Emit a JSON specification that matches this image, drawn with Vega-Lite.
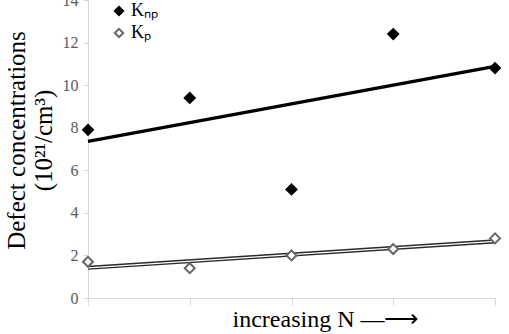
{
  "$schema": "https://vega.github.io/schema/vega-lite/v6.json",
  "width": 407,
  "height": 298,
  "autosize": "none",
  "padding": {"left": 88, "top": 0, "right": 14, "bottom": 36},
  "background": "white",
  "config": {
    "view": {"stroke": null},
    "font": "Liberation Serif"
  },
  "data": {
    "values": [
      {"n": 1, "series": "Knp", "value": 7.9},
      {"n": 2, "series": "Knp", "value": 9.4},
      {"n": 3, "series": "Knp", "value": 5.1},
      {"n": 4, "series": "Knp", "value": 12.4},
      {"n": 5, "series": "Knp", "value": 10.8},
      {"n": 1, "series": "Kp", "value": 1.7},
      {"n": 2, "series": "Kp", "value": 1.4},
      {"n": 3, "series": "Kp", "value": 2.0},
      {"n": 4, "series": "Kp", "value": 2.3},
      {"n": 5, "series": "Kp", "value": 2.8}
    ]
  },
  "layer": [
    {
      "transform": [
        {"filter": "datum.series === 'Knp'"},
        {"regression": "value", "on": "n"}
      ],
      "mark": {"type": "line", "color": "black", "strokeWidth": 3.4},
      "encoding": {
        "x": {"field": "n", "type": "quantitative"},
        "y": {"field": "value", "type": "quantitative"}
      }
    },
    {
      "transform": [
        {"filter": "datum.series === 'Kp'"},
        {"regression": "value", "on": "n"}
      ],
      "mark": {"type": "line", "color": "#2a2a2a", "strokeWidth": 4.2},
      "encoding": {
        "x": {"field": "n", "type": "quantitative"},
        "y": {"field": "value", "type": "quantitative"}
      }
    },
    {
      "transform": [
        {"filter": "datum.series === 'Kp'"},
        {"regression": "value", "on": "n"}
      ],
      "mark": {"type": "line", "color": "white", "strokeWidth": 1.3},
      "encoding": {
        "x": {"field": "n", "type": "quantitative"},
        "y": {"field": "value", "type": "quantitative"}
      }
    },
    {
      "mark": {"type": "point", "filled": true, "strokeWidth": 2, "opacity": 1, "size": 100},
      "encoding": {
        "x": {
          "field": "n",
          "type": "quantitative",
          "scale": {"domain": [1, 5], "nice": false, "zero": false},
          "axis": {
            "values": [1, 2, 3, 4, 5],
            "labels": false,
            "grid": false,
            "domainColor": "#d9d9d9",
            "tickColor": "#d9d9d9",
            "tickSize": 7,
            "title": "increasing N  —⟶",
            "titleFont": "Liberation Serif",
            "titleFontSize": 24,
            "titleFontWeight": "normal",
            "titleColor": "black",
            "titleX": 237,
            "titleAlign": "center",
            "titlePadding": 2
          }
        },
        "y": {
          "field": "value",
          "type": "quantitative",
          "scale": {"domain": [0, 14], "nice": false},
          "axis": {
            "values": [0, 2, 4, 6, 8, 10, 12, 14],
            "grid": false,
            "domainColor": "#d9d9d9",
            "tickColor": "#d9d9d9",
            "tickSize": 5,
            "labelFont": "Liberation Serif",
            "labelFontSize": 16,
            "labelColor": "#595959",
            "labelPadding": 5,
            "title": ["Defect concentrations", "(10²¹/cm³)"],
            "titleFont": "Liberation Serif",
            "titleFontSize": 25,
            "titleFontWeight": "normal",
            "titleColor": "black",
            "titleLineHeight": 27,
            "titleY": 140,
            "titleX": -84,
            "titleBaseline": "top",
            "titleAlign": "center",
            "titleAngle": -90
          }
        },
        "shape": {
          "field": "series",
          "type": "nominal",
          "scale": {"domain": ["Knp", "Kp"], "range": ["diamond", "diamond"]},
          "legend": {
            "orient": "none",
            "legendX": 22,
            "legendY": 2,
            "title": null,
            "symbolSize": 70,
            "symbolStrokeWidth": 2,
            "labelFont": "Liberation Serif",
            "labelFontSize": 18,
            "labelColor": "black",
            "labelOffset": 3,
            "rowPadding": 4,
            "labelExpr": "datum.label === 'Knp' ? 'Kₙₚ' : 'Kₚ'"
          }
        },
        "fill": {
          "field": "series",
          "type": "nominal",
          "scale": {"domain": ["Knp", "Kp"], "range": ["black", "white"]}
        },
        "stroke": {
          "field": "series",
          "type": "nominal",
          "scale": {"domain": ["Knp", "Kp"], "range": ["black", "#666666"]}
        }
      }
    }
  ]
}
